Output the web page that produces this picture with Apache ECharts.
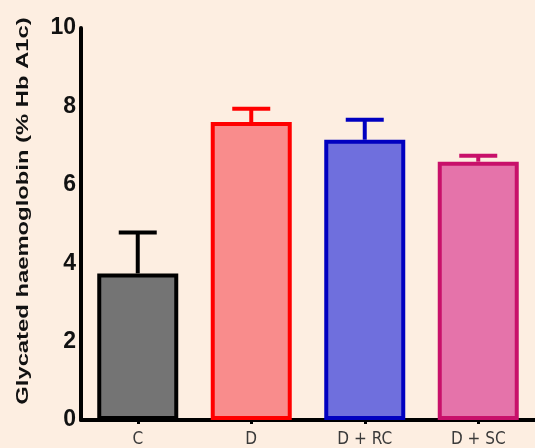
<!DOCTYPE html>
<html><head><meta charset="utf-8">
<script src="https://cdn.jsdelivr.net/npm/echarts@6/dist/echarts.min.js"></script>
<style>html,body{margin:0;padding:0;background:#fdeee1}#c{width:535px;height:448px}</style>
</head><body><div id="c"></div>
<script>
const categories = ['C', 'D', 'D + RC', 'D + SC'];
const means = [3.74, 7.6, 7.15, 6.59];
const errors = [1.04, 0.34, 0.51, 0.15];
const yTicks = [0, 2, 4, 6, 8, 10];
const yTitle = 'Glycated haemoglobin (% Hb A1c)';
const fills = ['#747474', '#f98c8c', '#6f6fdd', '#e573aa'];
const borders = ['#000000', '#ff0000', '#0000c0', '#c8106a'];

const chart = echarts.init(document.getElementById('c'));
chart.setOption({
  backgroundColor: '#fdeee1',
  animation: false,
  grid: {left: 81, right: -5, top: 28, bottom: 27, containLabel: false},
  graphic: [{
    type: 'text', x: 23, y: 211, rotation: Math.PI / 2, scaleX: 1.4, scaleY: 1,
    style: {text: yTitle, fill: '#111', font: 'bold 17px "Liberation Sans", Arial, sans-serif', align: 'center', verticalAlign: 'middle'}
  }],
  xAxis: {
    type: 'category', data: categories,
    axisLine: {lineStyle: {color: '#000', width: 4}},
    axisTick: {show: true, alignWithLabel: true, length: 4, lineStyle: {color: '#000', width: 3}},
    axisLabel: {color: '#3a3a3a', fontSize: 17, fontFamily: '"DejaVu Sans Condensed", sans-serif', margin: 11}
  },
  yAxis: {
    type: 'value', min: 0, max: 10, interval: 2,
    axisLine: {show: true, lineStyle: {color: '#000', width: 4}},
    axisTick: {show: false},
    splitLine: {show: false},
    axisLabel: {color: '#111', fontSize: 23, fontWeight: 'bold', fontFamily: '"Liberation Sans", Arial, sans-serif', margin: 5,
      formatter: v => yTicks.includes(v) ? String(v) : ''}
  },
  series: [
    {
      type: 'custom', z: 1,
      renderItem: (params, api) => {
        const i = api.value(0);
        const m = api.value(1), e = api.value(2);
        const p0 = api.coord([i, m]);
        const p1 = api.coord([i, m + e]);
        const style = {stroke: borders[i], lineWidth: 4};
        return {type: 'group', children: [
          {type: 'line', shape: {x1: p0[0], y1: p0[1], x2: p1[0], y2: p1[1]}, style},
          {type: 'line', shape: {x1: p1[0] - 19, y1: p1[1], x2: p1[0] + 19, y2: p1[1]}, style}
        ]};
      },
      data: means.map((m, i) => [i, m, errors[i]])
    },
    {
      type: 'bar', z: 2, barWidth: 81,
      data: means.map((m, i) => ({value: m, itemStyle: {color: fills[i], borderColor: borders[i], borderWidth: 4}}))
    }
  ]
});
</script></body></html>
